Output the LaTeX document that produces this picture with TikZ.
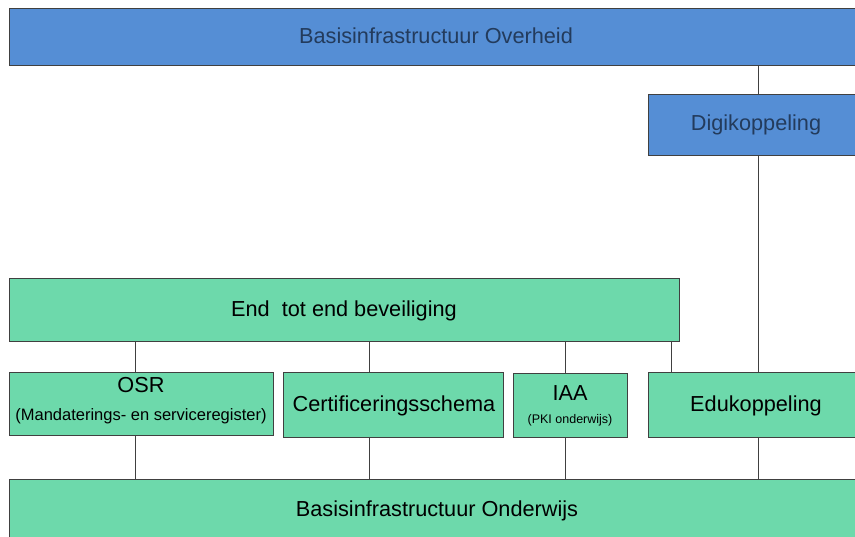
\documentclass[tikz,border=0pt]{standalone}
\usepackage{fontspec}
\setmainfont{Liberation Sans}
\definecolor{boxblue}{HTML}{558ED5}
\definecolor{boxgreen}{HTML}{6DD9AB}
\definecolor{bluetext}{HTML}{233B5C}
\definecolor{edge}{HTML}{404040}
\begin{document}
\begin{tikzpicture}[x=1pt,y=-1pt,
  bluebox/.style={draw=edge,line width=1pt,fill=boxblue,inner sep=0pt},
  greenbox/.style={draw=edge,line width=1pt,fill=boxgreen,inner sep=0pt},
  bluelabel/.style={text=bluetext,inner sep=0pt,font=\fontsize{21.7}{24}\selectfont},
  biglabel/.style={text=black,inner sep=0pt,font=\fontsize{21.7}{24}\selectfont},
  link/.style={draw=edge,line width=0.8pt}]
\useasboundingbox (0,0) rectangle (855,537);
\begin{scope}
\clip (0,0) rectangle (855,537);
% top boxes
\node[bluebox,minimum width=866pt,minimum height=57pt,anchor=north west] (overheid) at (9,8) {};
\node[bluelabel] (overheidtxt) at (436,36) {Basisinfrastructuur Overheid};
\node[bluebox,minimum width=220pt,minimum height=61pt,anchor=north west] (digi) at (648,94) {};
\node[bluelabel] (digitxt) at (756,125) {Digikoppeling};
% green boxes
\node[greenbox,minimum width=670pt,minimum height=63pt,anchor=north west] (e2e) at (9,278) {};
\node[biglabel] (e2etxt) at (344,311) {End\ \ tot end beveiliging};
\node[greenbox,minimum width=264pt,minimum height=63pt,anchor=north west] (osr) at (9,372) {};
\node[biglabel] (osrtxt) at (141,385) {OSR};
\node[font=\fontsize{16.5}{19}\selectfont,inner sep=0pt] (osrsub) at (141,416) {(Mandaterings- en serviceregister)};
\node[greenbox,minimum width=220pt,minimum height=65pt,anchor=north west] (cert) at (283,372) {};
\node[biglabel] (certtxt) at (394,406) {Certificeringsschema};
\node[greenbox,minimum width=114pt,minimum height=64pt,anchor=north west] (iaa) at (513,373) {};
\node[biglabel] (iaatxt) at (570,393) {IAA};
\node[font=\fontsize{12.5}{14}\selectfont,inner sep=0pt] (iaasub) at (570,420) {(PKI onderwijs)};
\node[greenbox,minimum width=220pt,minimum height=65pt,anchor=north west] (edu) at (648,372) {};
\node[biglabel] (edutxt) at (756,406) {Edukoppeling};
\node[greenbox,minimum width=866pt,minimum height=70pt,anchor=north west] (onderwijs) at (9,479) {};
\node[biglabel] (onderwijstxt) at (437,511) {Basisinfrastructuur Onderwijs};
% connectors
\coordinate (a1) at (758,0);
\draw[link] (overheid.south -| a1) -- (digi.north -| a1);
\draw[link] (digi.south -| a1) -- (edu.north -| a1);
\coordinate (c1) at (135,0);
\draw[link] (e2e.south -| c1) -- (osr.north -| c1);
\draw[link] (osr.south -| c1) -- (onderwijs.north -| c1);
\coordinate (c2) at (369,0);
\draw[link] (e2e.south -| c2) -- (cert.north -| c2);
\draw[link] (cert.south -| c2) -- (onderwijs.north -| c2);
\coordinate (c3) at (565,0);
\draw[link] (e2e.south -| c3) -- (iaa.north -| c3);
\draw[link] (iaa.south -| c3) -- (onderwijs.north -| c3);
\coordinate (c4) at (671,0);
\draw[link] (e2e.south -| c4) -- (edu.north -| c4);
\draw[link] (edu.south -| a1) -- (onderwijs.north -| a1);
\end{scope}
\end{tikzpicture}
\end{document}
